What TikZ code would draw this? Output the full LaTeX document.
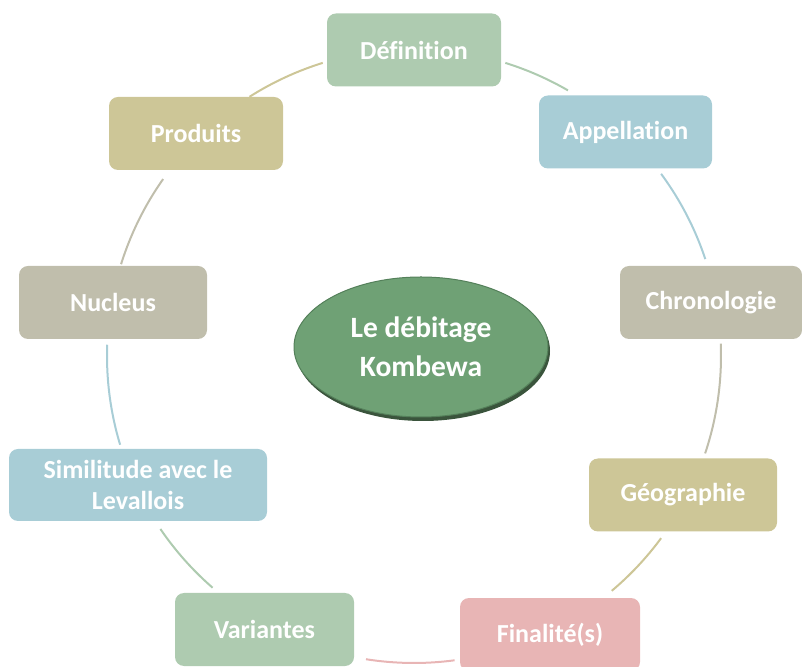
\documentclass[tikz,border=0pt]{standalone}
\usepackage{fontspec}
\setmainfont{Carlito}[Ligatures={NoCommon}]
\usetikzlibrary{shapes.geometric}
\definecolor{cgreen}{RGB}{174,203,176}
\definecolor{cblue}{RGB}{168,205,214}
\definecolor{cgray}{RGB}{192,190,172}
\definecolor{ctan}{RGB}{205,198,151}
\definecolor{cpink}{RGB}{232,181,181}
\definecolor{cell}{RGB}{111,161,117}
\definecolor{celldark}{RGB}{84,128,90}
\definecolor{cshadow}{RGB}{58,84,60}
\tikzset{
  box/.style={rounded corners=9pt, minimum height=73pt, text=white,
    font=\fontsize{26}{30.5}\selectfont\bfseries, align=center, inner sep=0pt},
  arcline/.style={line width=2pt},
}
\begin{document}
\begin{tikzpicture}[x=1pt,y=1pt]
\useasboundingbox (0,0) rectangle (802,666);
\coordinate (c) at (414,310);
% arcs
\draw[arcline, ctan]   ([shift={(122.4:307)}]c) arc[start angle=122.4, end angle=107.3, radius=307];
\draw[arcline, cgreen] ([shift={(72.7:307)}]c) arc[start angle=72.7, end angle=59.9, radius=307];
\draw[arcline, cblue]  ([shift={(36.4:307)}]c) arc[start angle=36.4, end angle=18.4, radius=307];
\draw[arcline, cgray]  ([shift={(2.3:307)}]c) arc[start angle=2.3, end angle=-18.5, radius=307];
\draw[arcline, ctan]   ([shift={(-36.4:307)}]c) arc[start angle=-36.4, end angle=-49.9, radius=307];
\draw[arcline, cpink]  ([shift={(-82.4:307)}]c) arc[start angle=-82.4, end angle=-99, radius=307];
\draw[arcline, cgreen] ([shift={(-131:307)}]c) arc[start angle=-131, end angle=-145.7, radius=307];
\draw[arcline, cblue]  ([shift={(-163.2:307)}]c) arc[start angle=-163.2, end angle=-182.1, radius=307];
\draw[arcline, cgray]  ([shift={(-197.4:307)}]c) arc[start angle=-197.4, end angle=-215.2, radius=307];
% boxes
\node[box, fill=cgreen, minimum width=174pt] (def) at (414,616) {Définition};
\node[box, fill=cblue, minimum width=173pt] (app) at (625.5,534) {Appellation};
\node[box, fill=cgray, minimum width=182pt] (chr) at (711,363.5) {Chronologie};
\node[box, fill=ctan, minimum width=188pt] (geo) at (683,171) {Géographie};
\node[box, fill=cpink, minimum width=180pt] (fin) at (550,31.5) {Finalité(s)};
\node[box, fill=cgreen, minimum width=179pt] (var) at (264.5,36.5) {Variantes};
\node[box, fill=cblue, minimum width=258pt, minimum height=72pt] (sim) at (138,181) {Similitude avec le\\Levallois};
\node[box, fill=cgray, minimum width=188pt] (nuc) at (113,363.5) {Nucleus};
\node[box, fill=ctan, minimum width=174pt] (pro) at (196,532.5) {Produits};
% central ellipse
\fill[cshadow] (423,315) ellipse[x radius=127, y radius=70];
\node[ellipse, fill=cell, draw=celldark, line width=1pt, minimum width=254pt, minimum height=140pt,
  inner sep=0pt, text=white, align=center,
  font=\fontsize{29.5}{39}\selectfont\bfseries] (ctr) at (421,319) {Le débitage\\Kombewa};
\end{tikzpicture}
\end{document}
